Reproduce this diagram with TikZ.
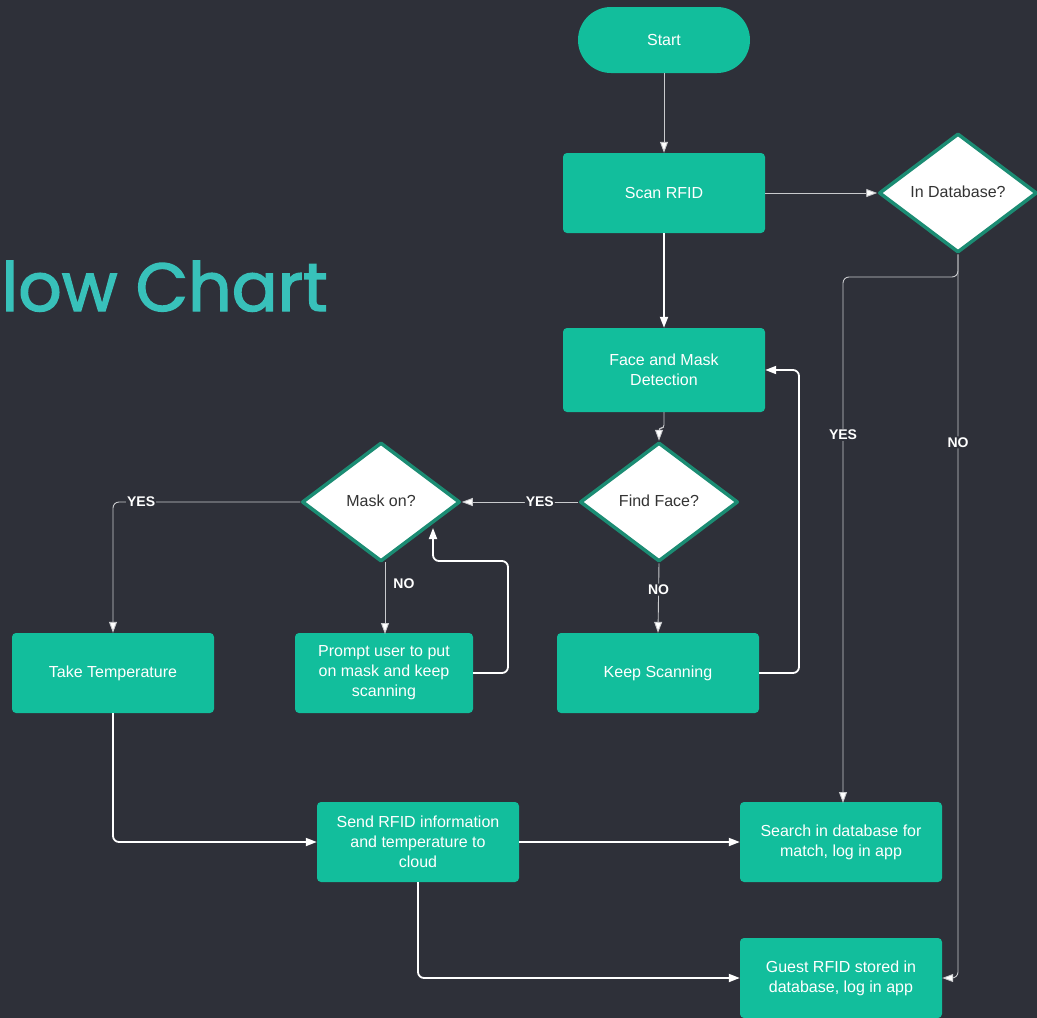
\documentclass[tikz,border=0pt]{standalone}
\usepackage{fontspec}
\setmainfont{Liberation Sans}
\newfontfamily\titlefont{Poppins}[FakeBold=2]
\usetikzlibrary{shapes.geometric,arrows.meta}
\definecolor{bgc}{HTML}{2E3039}
\definecolor{boxg}{HTML}{12BE9C}
\definecolor{dline}{HTML}{1B8C73}
\definecolor{titc}{HTML}{38C1BA}
\definecolor{thinl}{HTML}{C9CACD}
\begin{document}
\begin{tikzpicture}[x=1pt,y=-1pt,
  procbox/.style={fill=boxg, rounded corners=4pt, minimum width=202pt, minimum height=80pt, inner sep=2pt, text=white, align=center, font=\fontsize{16}{20}\selectfont},
  decbox/.style={diamond, fill=white, draw=dline, line width=3.5pt, line join=round, minimum width=158pt, minimum height=119pt, aspect=1.33, inner sep=0pt, text=black!80, font=\fontsize{16}{20}\selectfont},
  thinar/.style={draw=thinl, line width=0.9pt, -{Triangle[length=11pt,width=8pt,fill=white]}, rounded corners=6pt},
  thickar/.style={draw=white, line width=1.8pt, -{Triangle[length=11pt,width=8pt,fill=white]}, rounded corners=6pt},
  lbl/.style={fill=bgc, text=white, inner sep=1pt, font=\bfseries\fontsize{14}{16}\selectfont}
]
\useasboundingbox (0,0) rectangle (1037,1018);
\fill[bgc] (0,0) rectangle (1037,1018);
\node[anchor=base east, text=titc, font=\titlefont\fontsize{68}{74}\selectfont, inner sep=0pt] (title) at (328,311) {Flow Chart};

\node[fill=boxg, rounded corners=33pt, minimum width=172pt, minimum height=66pt, text=white, font=\fontsize{16}{20}\selectfont] (start) at (664,40) {Start};
\node[procbox] (scan) at (664,193) {Scan RFID};
\node[decbox] (indb) at (958,193) {\raisebox{3pt}{In Database?}};
\node[procbox, minimum height=84pt] (face) at (664,370) {Face and Mask\\Detection};
\node[decbox] (find) at (659,502) {\raisebox{3pt}{Find Face?}};
\node[decbox] (mask) at (381,502) {\raisebox{3pt}{Mask on?}};
\node[procbox] (temp) at (113,673) {Take Temperature};
\node[procbox, minimum width=178pt] (prompt) at (384,673) {Prompt user to put\\on mask and keep\\scanning};
\node[procbox] (keep) at (658,673) {Keep Scanning};
\node[procbox] (send) at (418,842) {Send RFID information\\and temperature to\\cloud};
\node[procbox] (search) at (841,842) {Search in database for\\match, log in app};
\node[procbox] (guest) at (841,978) {Guest RFID stored in\\database, log in app};

\coordinate (jA) at (664,428);
\coordinate (jB) at (659,428);
\draw[thinar] (start) -- (scan);
\draw[thinar] (scan.east) -- (indb.west);
\draw[thickar] (scan) -- (face);
\draw[thinar, rounded corners=3pt] (face.south) -- (jA) -- (jB) -- (find.north);
\draw[thinar] (find.west) -- node[lbl, pos=0.33] {YES} (mask.east);
\draw[thinar] (find.south) -- node[lbl, pos=0.38] {NO} (keep.north);
\draw[thickar] (keep.east) -- (799,673) -- (799,370) -- (face.east);
\draw[thinar] (mask.west) -- (113,502) node[lbl, pos=0.85] {YES} -- (temp.north);
\draw[thinar] (385,562) -- node[right=8pt, pos=0.3, text=white, font=\bfseries\fontsize{14}{16}\selectfont, inner sep=0pt] {NO} (385,634);
\draw[thickar] (prompt.east) -- (508,673) -- (508,561) -- (433,561) -- (433,528);
\draw[thickar] (temp.south) -- (113,842) -- (send.west);
\draw[thickar] (send.east) -- (search.west);
\draw[thickar] (send.south) -- (418,978) -- (guest.west);
\draw[thinar] (indb.south) -- (958,277) -- (843,277) -- node[lbl, pos=0.3] {YES} (843,803);
\draw[thinar] (indb.south) -- node[lbl, pos=0.26] {NO} (958,978) -- (guest.east);
\end{tikzpicture}
\end{document}
